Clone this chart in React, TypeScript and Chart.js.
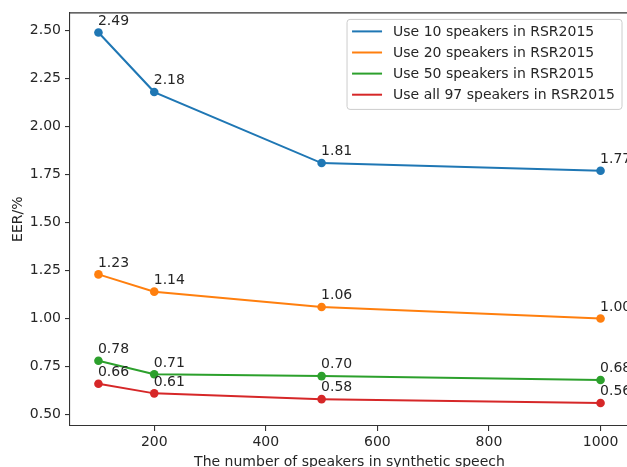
import React, { useEffect, useRef } from "react";
import { Chart, registerables } from "chart.js";

Chart.register(...registerables);

const speakerCounts = [100, 200, 500, 1000];
const eer10 = [2.49, 2.18, 1.81, 1.77];
const eer20 = [1.23, 1.14, 1.06, 1.0];
const eer50 = [0.78, 0.71, 0.7, 0.68];
const eer97 = [0.66, 0.61, 0.58, 0.56];
const seriesLabels = [
  "Use 10 speakers in RSR2015",
  "Use 20 speakers in RSR2015",
  "Use 50 speakers in RSR2015",
  "Use all 97 speakers in RSR2015",
];
const seriesColors = ["#1f77b4", "#ff7f0e", "#2ca02c", "#d62728"];
const xTickValues = [200, 400, 600, 800, 1000];
const yTickValues = [0.5, 0.75, 1.0, 1.25, 1.5, 1.75, 2.0, 2.25, 2.5];
const xTitle = "The number of speakers in synthetic speech";
const yTitle = "EER/%";

const FONT_FAMILY = '"DejaVu Sans", "Liberation Sans", sans-serif';
const TEXT_COLOR = "#262626";
const LINE_COLOR = "#333333";

const overlayPlugin = {
  id: "overlay",
  afterDatasetsDraw(chart: any) {
    const ctx = chart.ctx;
    const area = chart.chartArea;
    const xs = chart.scales.x;
    const ys = chart.scales.y;
    ctx.save();
    // top spine
    ctx.strokeStyle = LINE_COLOR;
    ctx.lineWidth = 1.1;
    ctx.beginPath();
    ctx.moveTo(area.left, area.top + 0.5);
    ctx.lineTo(area.right, area.top + 0.5);
    ctx.moveTo(area.right - 0.5, area.top);
    ctx.lineTo(area.right - 0.5, area.bottom);
    ctx.stroke();

    // value labels
    ctx.font = `14px ${FONT_FAMILY}`;
    ctx.fillStyle = TEXT_COLOR;
    ctx.textAlign = "left";
    ctx.textBaseline = "alphabetic";
    chart.data.datasets.forEach((ds: any) => {
      ds.data.forEach((p: any) => {
        const px = xs.getPixelForValue(p.x);
        const py = ys.getPixelForValue(p.y + 0.04);
        ctx.fillText(p.y.toFixed(2), px - 0.5, py);
      });
    });

    // axis titles
    ctx.textAlign = "center";
    ctx.fillText(xTitle, (area.left + area.right) / 2, 466);
    ctx.save();
    ctx.translate(22, (area.top + area.bottom) / 2);
    ctx.rotate(-Math.PI / 2);
    ctx.fillText(yTitle, 0, 0);
    ctx.restore();
    ctx.restore();
  },
  afterDraw(chart: any) {
    const ctx = chart.ctx;
    const area = chart.chartArea;
    ctx.save();
    ctx.font = `14px ${FONT_FAMILY}`;
    let textW = 0;
    seriesLabels.forEach((l) => {
      textW = Math.max(textW, ctx.measureText(l).width);
    });
    const boxRight = area.right - 7;
    const boxTop = area.top + 7;
    const boxW = textW + 53;
    const boxH = 90;
    const boxLeft = boxRight - boxW;
    const r = 3;
    ctx.beginPath();
    ctx.moveTo(boxLeft + r, boxTop);
    ctx.lineTo(boxRight - r, boxTop);
    ctx.arcTo(boxRight, boxTop, boxRight, boxTop + r, r);
    ctx.lineTo(boxRight, boxTop + boxH - r);
    ctx.arcTo(boxRight, boxTop + boxH, boxRight - r, boxTop + boxH, r);
    ctx.lineTo(boxLeft + r, boxTop + boxH);
    ctx.arcTo(boxLeft, boxTop + boxH, boxLeft, boxTop + boxH - r, r);
    ctx.lineTo(boxLeft, boxTop + r);
    ctx.arcTo(boxLeft, boxTop, boxLeft + r, boxTop, r);
    ctx.closePath();
    ctx.fillStyle = "rgba(255,255,255,0.8)";
    ctx.fill();
    ctx.strokeStyle = "#cccccc";
    ctx.lineWidth = 1;
    ctx.stroke();

    ctx.textAlign = "left";
    ctx.textBaseline = "middle";
    seriesLabels.forEach((label, i) => {
      const cy = boxTop + 12 + i * 21.1;
      ctx.strokeStyle = seriesColors[i];
      ctx.lineWidth = 2;
      ctx.beginPath();
      ctx.moveTo(boxLeft + 5, cy);
      ctx.lineTo(boxLeft + 35, cy);
      ctx.stroke();
      ctx.fillStyle = TEXT_COLOR;
      ctx.fillText(label, boxLeft + 46, cy + 1);
    });
    ctx.restore();
  },
};

export default function App() {
  const canvasRef = useRef<HTMLCanvasElement | null>(null);

  useEffect(() => {
    document.body.style.margin = "0";
    document.body.style.overflow = "hidden";
    document.documentElement.style.overflow = "hidden";
    const canvas = canvasRef.current;
    if (!canvas) return;
    const allSeries = [eer10, eer20, eer50, eer97];
    const chart = new Chart(canvas, {
      type: "line",
      data: {
        datasets: allSeries.map((vals, i) => ({
          label: seriesLabels[i],
          data: vals.map((v, j) => ({ x: speakerCounts[j], y: v })),
          borderColor: seriesColors[i],
          backgroundColor: seriesColors[i],
          pointBackgroundColor: seriesColors[i],
          pointBorderColor: seriesColors[i],
          pointBorderWidth: 0,
          pointRadius: 4.3,
          borderWidth: 2,
          tension: 0,
          fill: false,
          clip: false as any,
        })),
      },
      options: {
        responsive: false,
        animation: false,
        devicePixelRatio: 1,
        layout: { padding: { left: 0, top: 10, right: 11, bottom: 0 } },
        plugins: {
          legend: { display: false },
          tooltip: { enabled: false },
        },
        scales: {
          x: {
            type: "linear",
            min: 49,
            max: 1051,
            afterBuildTicks: (s: any) => {
              s.ticks = xTickValues.map((v) => ({ value: v }));
            },
            afterFit: (s: any) => {
              s.height = 41;
            },
            ticks: {
              autoSkip: false,
              maxRotation: 0,
              padding: 3,
              color: TEXT_COLOR,
              font: { family: FONT_FAMILY, size: 14 },
              callback: (v: any) => String(v),
            },
            grid: {
              drawOnChartArea: false,
              drawTicks: true,
              tickLength: 5,
              color: LINE_COLOR,
              lineWidth: 1.1,
            },
            border: { display: true, color: LINE_COLOR, width: 1.1 },
          },
          y: {
            type: "linear",
            min: 0.44,
            max: 2.595,
            afterBuildTicks: (s: any) => {
              s.ticks = yTickValues.map((v) => ({ value: v }));
            },
            afterFit: (s: any) => {
              s.width = 70;
            },
            ticks: {
              autoSkip: false,
              padding: 4,
              color: TEXT_COLOR,
              font: { family: FONT_FAMILY, size: 14 },
              callback: (v: any) => Number(v).toFixed(2),
            },
            grid: {
              drawOnChartArea: false,
              drawTicks: true,
              tickLength: 5,
              color: LINE_COLOR,
              lineWidth: 1.1,
            },
            border: { display: true, color: LINE_COLOR, width: 1.1 },
          },
        },
      },
      plugins: [overlayPlugin],
    });
    return () => chart.destroy();
  }, []);

  return (
    <div style={{ width: 627, height: 467, overflow: "hidden", position: "relative" }}>
      <canvas ref={canvasRef} width={640} height={467} style={{ display: "block" }} />
    </div>
  );
}
